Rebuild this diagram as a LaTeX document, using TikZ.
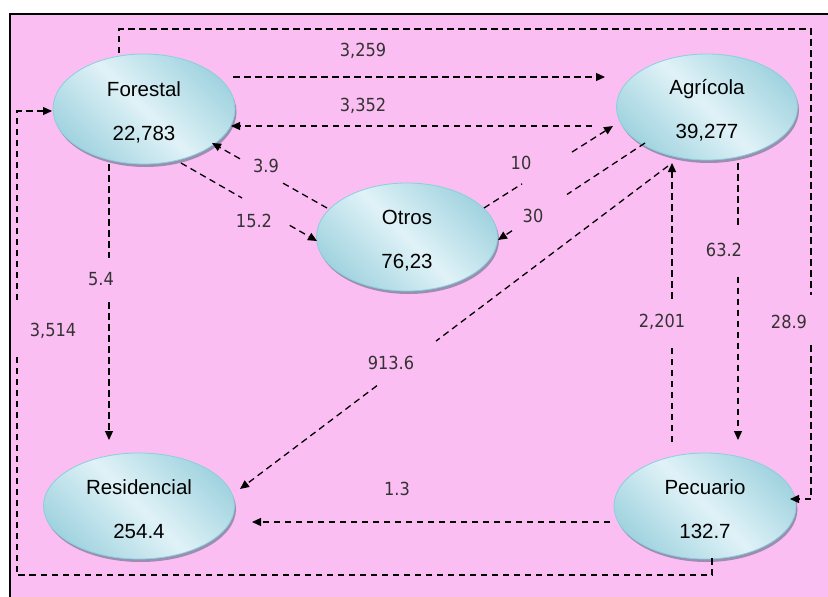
\documentclass[tikz,border=0pt]{standalone}
\usepackage{fontspec}
\setmainfont{Liberation Sans}
\newfontfamily\labfont[FakeStretch=0.9]{DejaVu Sans}
\usetikzlibrary{arrows.meta,shapes.geometric,shadows,calc}
\definecolor{bgpink}{HTML}{FBBEF2}
\definecolor{elllight}{HTML}{E0F2F7}
\definecolor{elldark}{HTML}{A2D4E0}
\definecolor{ellborder}{HTML}{8ACFDC}
\definecolor{shadowc}{HTML}{9A8FB0}
\definecolor{labc}{HTML}{333333}
\newcommand{\tstrut}{\rule{0pt}{21pt}}
\tikzset{
  sector/.style={ellipse, draw=ellborder, line width=0.8pt, inner sep=0pt,
    top color=elldark, bottom color=elldark, middle color=elllight, shading angle=-45,
    drop shadow={shadow xshift=1.5pt, shadow yshift=-3pt, fill=shadowc, opacity=1},
    font=\fontsize{20.5}{24}\selectfont, align=center},
  flow/.style={draw=black, line width=1.3pt, dash pattern=on 6.5pt off 4.5pt,
    -{Triangle[length=9pt,width=8pt]}},
  lab/.style={font=\labfont\fontsize{18}{20}\selectfont, text=labc, inner sep=0pt}
}
\begin{document}
\begin{tikzpicture}[x=1pt,y=-1pt]
\useasboundingbox (0,0) rectangle (828,597);
\fill[white] (0,0) rectangle (828,597);
\fill[bgpink] (10,14) rectangle (828,597);
\draw[black, line width=2pt] (10,597) -- (10,14) -- (828,14);

% sectors
\node[sector, minimum width=182pt, minimum height=110pt] (forestal) at (144,109) {\tstrut Forestal\\[20pt]22,783};
\node[sector, minimum width=181pt, minimum height=106pt] (agricola) at (707,107) {\tstrut Agrícola\\[20pt]39,277};
\node[sector, minimum width=181pt, minimum height=108pt] (otros) at (407,237) {\tstrut Otros\\[20pt]76,23};
\node[sector, minimum width=191pt, minimum height=106pt] (residencial) at (139,506) {\tstrut Residencial\\[20pt]254.4};
\node[sector, minimum width=182pt, minimum height=106pt] (pecuario) at (705,506) {\tstrut Pecuario\\[20pt]132.7};

% connector end points
\coordinate (s1) at ([shift={(89,-32)}]forestal.center);
\coordinate (e1) at ([shift={(-102,-30)}]agricola.center);
\coordinate (s2) at ([shift={(-115,19)}]agricola.center);
\coordinate (e2) at ([shift={(87,17)}]forestal.center);
\coordinate (s3) at ([shift={(-80,-29)}]otros.center);
\coordinate (e3) at ([shift={(68,34)}]forestal.center);
\coordinate (s4) at ([shift={(37,54)}]forestal.center);
\coordinate (e4) at ([shift={(-90,4)}]otros.center);
\coordinate (s5) at ([shift={(77,-29)}]otros.center);
\coordinate (e5) at ([shift={(-94,19)}]agricola.center);
\coordinate (s6) at ([shift={(-62,36)}]agricola.center);
\coordinate (e6) at ([shift={(91,3)}]otros.center);
\coordinate (s7) at ([shift={(-35,55)}]forestal.center);
\coordinate (e7) at ([shift={(-30,-66)}]residencial.center);
\coordinate (s8) at ([shift={(31,56)}]agricola.center);
\coordinate (e8) at ([shift={(33,-66)}]pecuario.center);
\coordinate (s9) at ([shift={(-33,-64)}]pecuario.center);
\coordinate (e9) at ([shift={(-35,56)}]agricola.center);
\coordinate (s10) at ([shift={(-39,59)}]agricola.center);
\coordinate (e10) at ([shift={(101,-17)}]residencial.center);
\coordinate (s11) at ([shift={(-95,16)}]pecuario.center);
\coordinate (e11) at ([shift={(113,16)}]residencial.center);
\coordinate (s12) at ([shift={(-25,-56)}]forestal.center);
\coordinate (e12) at ([shift={(85,-7)}]pecuario.center);
\coordinate (s13) at ([shift={(7,52)}]pecuario.center);
\coordinate (e13) at ([shift={(-92,2)}]forestal.center);
% loop corners and gaps
\coordinate (k12a) at (119,29);
\coordinate (k12b) at (811,29);
\coordinate (g12a) at (811,295);
\coordinate (g12b) at (811,345);
\coordinate (k12c) at (811,499);
\coordinate (k13a) at (712,575);
\coordinate (k13b) at (17,575);
\coordinate (g13a) at (17,352);
\coordinate (g13b) at (17,300);
\coordinate (k13c) at (17,111);

% connectors
\draw[flow] (s1) -- (e1);
\draw[flow] (s2) -- (e2);
\draw[flow] (s3) -- ($(s3)!0.39!(e3)$) ($(s3)!0.757!(e3)$) -- (e3);
\draw[flow] (s4) -- ($(s4)!0.449!(e4)$) ($(s4)!0.80!(e4)$) -- (e4);
\draw[flow] (s5) -- ($(s5)!0.295!(e5)$) ($(s5)!0.682!(e5)$) -- (e5);
\draw[flow] (s6) -- ($(s6)!0.53!(e6)$) ($(s6)!0.905!(e6)$) -- (e6);
\draw[flow] (s7) -- ($(s7)!0.34!(e7)$) ($(s7)!0.50!(e7)$) -- (e7);
\draw[flow] (s8) -- ($(s8)!0.235!(e8)$) ($(s8)!0.41!(e8)$) -- (e8);
\draw[flow] (s9) -- ($(s9)!0.351!(e9)$) ($(s9)!0.514!(e9)$) -- (e9);
\draw[flow] (s10) -- ($(s10)!0.542!(e10)$) ($(s10)!0.68!(e10)$) -- (e10);
\draw[flow] (s11) -- (e11);
\draw[flow] (s12) -- (k12a) -- (k12b) -- (g12a) (g12b) -- (k12c) -- (e12);
\draw[flow] (s13) -- (k13a) -- (k13b) -- (g13a) (g13b) -- (k13c) -- (e13);

% labels
\node[lab] (l1) at (363,51) {3,259};
\node[lab] (l2) at (363,106) {3,352};
\node[lab] (l3) at (266,166) {3.9};
\node[lab] (l4) at (254,221) {15.2};
\node[lab] (l5) at (521,163) {10};
\node[lab] (l6) at (533,216) {30};
\node[lab] (l7) at (101,279) {5.4};
\node[lab] (l8) at (724,250) {63.2};
\node[lab] (l9) at (662,322) {2,201};
\node[lab] (l10) at (391,363) {913.6};
\node[lab] (l11) at (397,489) {1.3};
\node[lab] (l12) at (789,322) {28.9};
\node[lab] (l13) at (53,331) {3,514};
\end{tikzpicture}
\end{document}
